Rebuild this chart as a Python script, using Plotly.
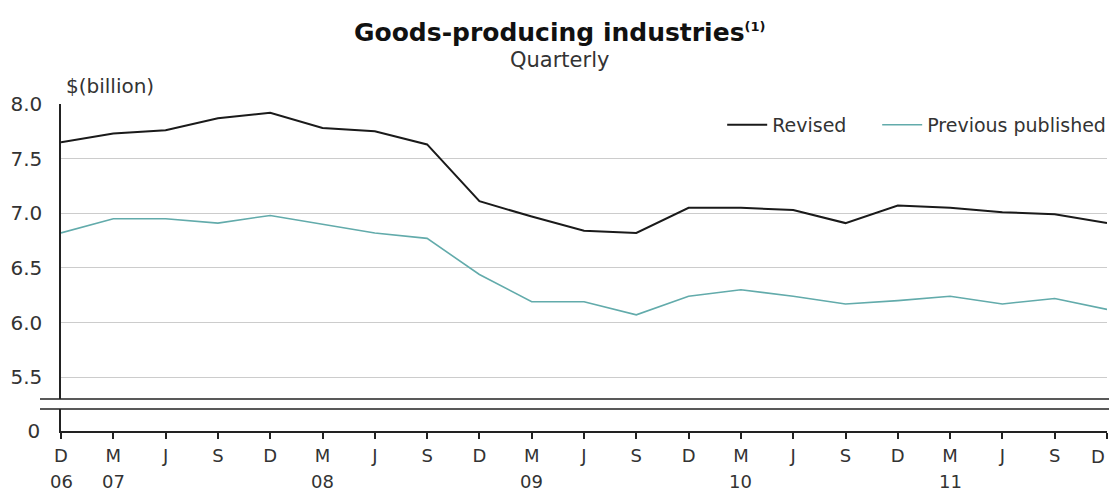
import plotly.graph_objects as go

# Quarterly periods, Dec 2006 to Dec 2011
periods = [
    "2006-12", "2007-03", "2007-06", "2007-09", "2007-12",
    "2008-03", "2008-06", "2008-09", "2008-12",
    "2009-03", "2009-06", "2009-09", "2009-12",
    "2010-03", "2010-06", "2010-09", "2010-12",
    "2011-03", "2011-06", "2011-09", "2011-12",
]
month_labels = ["D", "M", "J", "S", "D", "M", "J", "S", "D", "M", "J",
                "S", "D", "M", "J", "S", "D", "M", "J", "S", "D"]
year_labels = {"2006-12": "06", "2007-03": "07", "2008-03": "08",
               "2009-03": "09", "2010-03": "10", "2011-03": "11"}

# $ billion
revised = [7.65, 7.73, 7.76, 7.87, 7.92, 7.78, 7.75, 7.63, 7.11, 6.97, 6.84,
           6.82, 7.05, 7.05, 7.03, 6.91, 7.07, 7.05, 7.01, 6.99, 6.91]
previous_published = [6.82, 6.95, 6.95, 6.91, 6.98, 6.90, 6.82, 6.77, 6.44, 6.19, 6.19,
                      6.07, 6.24, 6.30, 6.24, 6.17, 6.20, 6.24, 6.17, 6.22, 6.12]

y_ticks_top = [5.5, 6.0, 6.5, 7.0, 7.5, 8.0]

FONT = "DejaVu Sans, Verdana, sans-serif"
TEXT = "#333333"
AXIS = "#222222"
TEAL = "#62abab"

# plot-area geometry in pixels (page is 1109 x 491)
W, H = 1109, 491
left, right, top, bottom = 61, 2, 104, 60
plot_w = W - left - right
plot_h = H - top - bottom
upper_bottom = (H - bottom - 399) / plot_h   # lower edge of upper panel
lower_top = (H - bottom - 409) / plot_h      # upper edge of lower panel
title_x = (559 - left) / plot_w

# the last label sits at the page edge, so it is drawn separately, nudged left
tick_text = month_labels[:-1] + [""]

fig = go.Figure()
fig.add_trace(go.Scatter(
    x=periods, y=revised, name="Revised", mode="lines",
    line=dict(color="#1a1a1a", width=2), legendwidth=100,
))
fig.add_trace(go.Scatter(
    x=periods, y=previous_published, name="Previous published", mode="lines",
    line=dict(color=TEAL, width=1.6),
))
# empty trace so the lower (zero) panel is laid out
fig.add_trace(go.Scatter(
    x=[periods[0]], y=[None], yaxis="y2", showlegend=False,
    hoverinfo="skip", mode="lines",
))

fig.update_layout(
    width=W, height=H,
    margin=dict(l=left, r=right, t=top, b=bottom, autoexpand=False),
    paper_bgcolor="white", plot_bgcolor="white",
    font=dict(family=FONT, size=19, color=TEXT),
    showlegend=True,
    legend=dict(
        orientation="h", x=1.004, xanchor="right", y=0.994, yanchor="top",
        bgcolor="rgba(0,0,0,0)", font=dict(size=19, color=TEXT),
        itemwidth=40, tracegroupgap=0,
    ),
    xaxis=dict(
        type="category", anchor="y2", domain=[0, 1],
        range=[0, len(periods) - 1],
        tickmode="array", tickvals=periods, ticktext=tick_text,
        ticks="outside", ticklen=6, tickwidth=1.5, tickcolor=AXIS,
        ticklabelstandoff=2,
        showline=True, linecolor=AXIS, linewidth=1.5,
        showgrid=False, zeroline=False,
        tickfont=dict(size=18, color=TEXT),
    ),
    yaxis=dict(
        domain=[upper_bottom, 1], range=[5.3, 8.0], anchor="x",
        tickmode="array", tickvals=y_ticks_top,
        ticktext=[f"{v:.1f}" for v in y_ticks_top],
        showgrid=True, gridcolor="#cccccc", gridwidth=1,
        showline=True, linecolor=AXIS, linewidth=1.5,
        ticks="", ticklabelstandoff=13, zeroline=False,
        tickfont=dict(size=20, color=TEXT),
    ),
    yaxis2=dict(
        domain=[0, lower_top], range=[0, 1], anchor="x",
        tickmode="array", tickvals=[0], ticktext=["0"],
        showgrid=False, showline=True, linecolor=AXIS, linewidth=1.5,
        ticks="", ticklabelstandoff=15, zeroline=False,
        tickfont=dict(size=20, color=TEXT),
    ),
)

# axis break marks across the full width
for yb in (upper_bottom, lower_top):
    fig.add_shape(
        type="line", xref="paper", yref="paper",
        x0=(40 - left) / plot_w, x1=(W - left) / plot_w,
        y0=yb, y1=yb, line=dict(color=AXIS, width=1.5),
    )

# final month label, kept inside the page
fig.add_annotation(
    text=month_labels[-1], x=periods[-1], xref="x", y=0, yref="paper",
    yshift=-25, xshift=-9, showarrow=False, xanchor="center", yanchor="middle",
    font=dict(family=FONT, size=18, color=TEXT),
)

# year labels under the first quarter of each year
for p, yr in year_labels.items():
    fig.add_annotation(
        text=yr, x=p, xref="x", y=0, yref="paper", yshift=-50,
        showarrow=False, xanchor="center", yanchor="middle",
        font=dict(family=FONT, size=18, color=TEXT),
    )

fig.add_annotation(
    text="<b>Goods-producing industries</b><b><sup><span style='font-size:13px'>(1)</span></sup></b>",
    xref="paper", yref="paper", x=title_x, y=1,
    yshift=72, showarrow=False, xanchor="center", yanchor="middle",
    font=dict(family=FONT, size=25, color="#111111"),
)
fig.add_annotation(
    text="Quarterly", xref="paper", yref="paper",
    x=title_x, y=1, yshift=44,
    showarrow=False, xanchor="center", yanchor="middle",
    font=dict(family=FONT, size=21, color=TEXT),
)
fig.add_annotation(
    text="$(billion)", xref="paper", yref="paper",
    x=(64 - left) / plot_w, y=1, yshift=18,
    showarrow=False, xanchor="left", yanchor="middle",
    font=dict(family=FONT, size=20, color=TEXT),
)

fig.write_html("out.html")
